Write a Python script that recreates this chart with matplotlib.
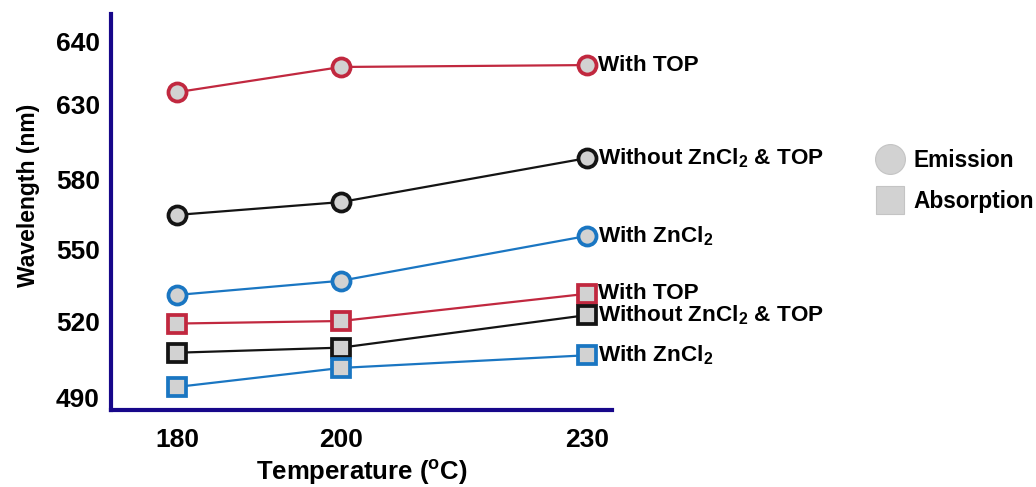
import numpy as np
import matplotlib.pyplot as plt
from matplotlib.lines import Line2D

plt.rcParams['font.family'] = ['Liberation Sans', 'DejaVu Sans']
plt.rcParams['font.weight'] = 'bold'
plt.rcParams['mathtext.fontset'] = 'custom'
plt.rcParams['mathtext.rm'] = 'Liberation Sans:bold'
plt.rcParams['mathtext.bf'] = 'Liberation Sans:bold'

temps = [180, 200, 230]

# пики эмиссии (нм)
em_top = [632, 636, 636.3]
em_none = [565, 570.5, 594.5]
em_zncl2 = [531, 537, 556]

# пики поглощения (нм)
abs_top = [519, 520, 531.5]
abs_none = [507.5, 509.5, 522.5]
abs_zncl2 = [494, 501.5, 506.5]

labels_top = 'With TOP'
labels_none = r'Without ZnCl$_\mathbf{2}$ & TOP'
labels_zncl2 = r'With ZnCl$_\mathbf{2}$'

red = '#c1283f'
black = '#141414'
blue = '#1a76c2'
fill = '#d2d2d2'

# ось Y неравномерная: метки стоят не пропорционально значениям
y_ticks = [490, 520, 550, 580, 630, 640]
scale_vals = [480, 490, 520, 550, 580, 630, 640, 650]
scale_pos = [-12.3, 13, 89, 160, 230, 305, 368, 431]


def forward(v):
    return np.interp(v, scale_vals, scale_pos)


def inverse(p):
    return np.interp(p, scale_pos, scale_vals)


fig = plt.figure(figsize=(10.36, 4.87), dpi=100)
ax = fig.add_axes([111 / 1036, 77 / 487, 501 / 1036, 396 / 487])
ax.set_yscale('function', functions=(forward, inverse))

series = [
    (em_top, red, 'o', labels_top),
    (em_none, black, 'o', labels_none),
    (em_zncl2, blue, 'o', labels_zncl2),
    (abs_top, red, 's', labels_top),
    (abs_none, black, 's', labels_none),
    (abs_zncl2, blue, 's', labels_zncl2),
]

for vals, color, marker, label in series:
    ms = 13 if marker == 'o' else 12.5
    ax.plot(temps, vals, color=color, lw=1.6, marker=marker, ms=ms,
            mfc=fill, mec=color, mew=2.7, clip_on=False, zorder=3)
    ax.annotate(label, (temps[-1], vals[-1]), xytext=(8, 0),
                textcoords='offset points', va='center', ha='left',
                fontsize=16.2, fontweight='bold', annotation_clip=False)

ax.set_xlim(171.95, 233.05)
ax.set_ylim(484.9, 644.4)
ax.set_xticks(temps)
ax.set_yticks(y_ticks)
ax.set_yticklabels([str(t) for t in y_ticks])
ax.minorticks_off()
ax.tick_params(axis='x', length=0, pad=13, labelsize=19)
ax.tick_params(axis='y', length=0, pad=8, labelsize=19)

for side in ['top', 'right']:
    ax.spines[side].set_visible(False)
for side in ['left', 'bottom']:
    ax.spines[side].set_color('#17078a')
    ax.spines[side].set_linewidth(3)

ax.set_xlabel(r'Temperature ($^\mathbf{o}$C)', fontsize=18.5, fontweight='bold', labelpad=4)
ax.set_ylabel('Wavelength (nm)', fontsize=16.5, fontweight='bold')
ax.yaxis.set_label_coords(-0.142, 0.543)

# легенда: круг — эмиссия, квадрат — поглощение
handles = [
    Line2D([], [], ls='none', marker='o', ms=21.5, mfc=fill, mec='#c4c4c4', mew=0.8),
    Line2D([], [], ls='none', marker='s', ms=20, mfc=fill, mec='#c4c4c4', mew=0.8),
]
fig.legend(handles, ['Emission', 'Absorption'], loc='upper left',
           bbox_to_anchor=(0.8354, 0.712), frameon=False,
           handlelength=1.4, handletextpad=0.3, labelspacing=0.78,
           borderaxespad=0, prop={'weight': 'bold', 'size': 16.3})

fig.savefig('out.png', dpi=100)
